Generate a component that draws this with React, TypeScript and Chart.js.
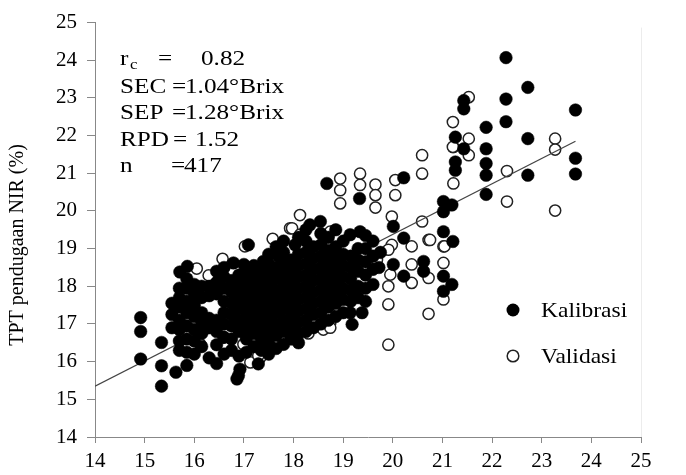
import React, { useEffect, useRef } from "react";
import { Chart, registerables } from "chart.js";

Chart.register(...registerables);

// Kalibrasi (filled circles): [TPT aktual, TPT pendugaan NIR]
const kalibrasiPoints: number[][] = [
  [14.92, 17.17], [14.92, 16.8], [14.92, 16.07],
  [15.34, 16.51], [15.34, 15.89], [15.34, 15.35], [15.63, 15.72],
  [15.55, 16.9], [15.55, 17.25], [15.55, 17.55],
  [15.7, 16.3], [15.7, 16.55], [15.7, 16.85], [15.7, 17.1], [15.7, 17.45], [15.7, 17.7], [15.7, 17.95], [15.71, 18.38],
  [15.85, 15.9], [15.85, 16.25], [15.85, 16.6], [15.85, 16.95], [15.85, 17.3], [15.85, 17.6], [15.85, 17.95], [15.85, 18.2], [15.86, 18.53],
  [16.0, 16.2], [16.0, 16.55], [16.0, 16.85], [16.0, 17.2], [16.0, 17.5], [16.0, 17.8], [16.0, 18.05],
  [16.15, 16.4], [16.15, 16.75], [16.15, 17.05], [16.15, 17.3], [16.15, 17.7], [16.15, 18.0],
  [16.3, 16.1], [16.3, 16.9], [16.3, 17.15], [16.3, 17.75], [16.3, 18.0],
  [16.45, 15.95], [16.45, 16.45], [16.45, 16.8], [16.45, 17.1], [16.45, 17.8], [16.45, 18.1], [16.45, 18.4],
  [16.6, 16.2], [16.6, 16.65], [16.6, 17.0], [16.6, 17.3], [16.6, 17.6], [16.6, 17.95], [16.6, 18.25], [16.6, 18.5],
  [16.75, 16.3], [16.75, 16.6], [16.75, 16.95], [16.75, 17.25], [16.75, 17.55], [16.75, 17.85], [16.75, 18.15], [16.79, 18.62],
  [16.89, 15.63], [16.92, 15.8], [16.86, 15.54], [16.9, 16.15], [16.9, 16.8], [16.9, 17.1], [16.9, 17.4], [16.9, 17.7], [16.9, 18.0], [16.9, 18.3],
  [17.05, 16.25], [17.05, 16.6], [17.05, 16.9], [17.05, 17.2], [17.05, 17.5], [17.05, 17.8], [17.05, 18.1], [17.05, 18.4], [17.0, 18.58], [17.09, 19.1],
  [17.2, 16.4], [17.2, 16.75], [17.2, 17.05], [17.2, 17.35], [17.2, 17.65], [17.2, 17.95], [17.2, 18.25], [17.2, 18.55],
  [17.29, 15.94], [17.35, 16.3], [17.35, 16.6], [17.35, 16.9], [17.35, 17.2], [17.35, 17.5], [17.35, 17.8], [17.35, 18.1], [17.35, 18.4], [17.39, 18.66],
  [17.5, 16.2], [17.5, 16.5], [17.5, 16.8], [17.5, 17.1], [17.5, 17.4], [17.5, 17.7], [17.5, 18.0], [17.5, 18.3], [17.5, 18.6], [17.5, 18.85],
  [17.65, 16.35], [17.65, 16.7], [17.65, 17.0], [17.65, 17.3], [17.65, 17.6], [17.65, 17.9], [17.65, 18.2], [17.65, 18.5], [17.7, 18.79], [17.65, 19.05],
  [17.8, 16.46], [17.8, 16.8], [17.8, 17.1], [17.8, 17.4], [17.8, 17.7], [17.8, 18.0], [17.8, 18.3], [17.8, 18.6], [17.8, 18.9], [17.8, 19.2],
  [17.95, 16.6], [17.95, 16.9], [17.95, 17.2], [17.95, 17.5], [17.95, 17.8], [17.95, 18.1], [17.95, 18.4], [17.95, 18.7], [18.03, 19.1],
  [18.1, 16.5], [18.1, 16.75], [18.1, 17.05], [18.1, 17.35], [18.1, 17.65], [18.1, 17.95], [18.1, 18.25], [18.1, 18.55], [18.1, 18.85], [18.1, 19.3],
  [18.25, 16.8], [18.25, 17.1], [18.25, 17.4], [18.25, 17.7], [18.25, 18.0], [18.25, 18.3], [18.25, 18.6], [18.25, 18.9], [18.25, 19.2], [18.25, 19.5],
  [18.4, 16.9], [18.4, 17.25], [18.4, 17.55], [18.4, 17.85], [18.4, 18.15], [18.4, 18.45], [18.4, 18.75], [18.4, 19.05], [18.33, 19.63],
  [18.55, 17.0], [18.55, 17.3], [18.55, 17.6], [18.55, 17.9], [18.55, 18.2], [18.55, 18.5], [18.55, 18.8], [18.55, 19.1], [18.55, 19.4], [18.54, 19.72],
  [18.7, 17.1], [18.7, 17.45], [18.7, 17.75], [18.7, 18.05], [18.7, 18.35], [18.7, 18.65], [18.7, 18.95], [18.7, 19.3], [18.67, 20.73],
  [18.85, 17.2], [18.85, 17.55], [18.85, 17.85], [18.85, 18.15], [18.85, 18.45], [18.85, 18.75], [18.85, 19.05], [18.85, 19.5],
  [19.0, 17.3], [19.0, 17.65], [19.0, 17.95], [19.0, 18.25], [19.0, 18.55], [19.0, 18.85], [19.0, 19.2],
  [19.18, 16.99], [19.14, 17.3], [19.15, 17.6], [19.15, 17.9], [19.15, 18.2], [19.15, 18.5], [19.15, 18.8], [19.14, 19.37],
  [19.38, 17.3], [19.3, 17.7], [19.3, 18.0], [19.3, 18.4], [19.3, 18.7], [19.3, 19.0], [19.34, 19.45], [19.33, 20.33],
  [19.45, 17.6], [19.45, 17.95], [19.45, 18.3], [19.45, 18.65], [19.45, 19.0], [19.45, 19.35],
  [19.6, 18.05], [19.6, 18.45], [19.6, 18.8], [19.6, 19.2], [19.72, 18.5], [19.75, 18.9],
  [20.01, 19.59], [20.22, 19.28], [20.01, 18.58], [20.22, 18.27], [20.62, 18.66], [20.62, 18.4],
  [21.02, 18.27], [21.19, 18.05], [21.02, 17.87], [20.22, 20.88],
  [21.02, 20.25], [21.19, 20.16], [21.02, 19.98], [21.02, 19.45], [21.21, 19.19],
  [21.26, 21.96], [21.26, 21.3], [21.26, 21.08], [21.43, 22.93], [21.43, 22.71], [21.43, 21.65],
  [21.88, 22.22], [21.88, 21.65], [21.88, 21.26], [21.88, 20.95], [21.88, 20.44],
  [22.28, 24.07], [22.28, 22.97], [22.28, 22.37], [22.72, 23.28], [22.72, 21.92], [22.72, 20.95],
  [23.68, 22.68], [23.68, 21.4], [23.68, 20.98],
];

// Validasi (open circles)
const validasiPoints: number[][] = [
  [16.05, 18.47], [16.29, 18.29], [16.57, 18.73], [17.02, 19.06], [17.58, 19.26], [17.93, 19.54], [18.13, 19.89],
  [17.97, 19.54], [18.13, 19.37], [18.74, 19.45],
  [16.12, 16.46], [16.2, 16.85], [16.59, 16.64], [16.99, 16.46], [17.13, 15.98], [17.33, 16.11], [17.29, 16.16], [17.58, 16.48],
  [17.5, 17.3], [17.9, 17.8], [18.1, 18.1], [18.3, 17.9], [18.5, 18.2], [18.6, 16.85], [18.3, 16.75],
  [18.74, 17.26], [18.74, 17.03], [18.74, 16.9],
  [18.94, 20.86], [18.94, 20.55], [18.94, 20.2], [19.34, 20.99], [19.34, 20.69],
  [19.65, 20.7], [19.65, 20.42], [19.65, 20.09], [20.05, 20.82], [20.05, 20.42],
  [20.59, 21.48], [20.59, 20.99], [21.22, 21.7], [21.22, 20.73],
  [19.98, 19.85], [20.59, 19.72], [20.72, 19.23], [20.38, 19.06], [19.98, 19.1], [19.91, 18.97], [21.02, 19.06],
  [20.38, 18.58], [19.95, 18.31], [19.91, 18.0], [20.38, 18.09], [20.72, 18.22], [21.02, 18.62],
  [21.02, 17.65], [19.91, 17.52], [20.72, 17.27], [19.68, 18.7], [19.91, 16.45],
  [21.53, 23.02], [21.21, 22.36], [21.53, 21.92], [21.21, 21.7], [21.53, 21.48],
  [22.3, 21.06], [22.3, 20.25], [23.27, 21.92], [23.27, 21.63], [23.27, 20.01],
  [20.75, 19.23], [21.04, 19.06],
];

// Regression line end points
const regressionLine: number[][] = [[14, 15.35], [23.68, 21.85]];

const axisMin = 14;
const axisMax = 25;

const statsLabels = ["r", "SEC", "SEP", "RPD", "n"];
const statsValues = ["0.82", "1.04°Brix", "1.28°Brix", "1.52", "417"];
const legendLabels = ["Kalibrasi", "Validasi"];
const yTitle = "TPT pendugaan NIR (%)";

const FONT = '"Liberation Serif", "Times New Roman", serif';

function wideText(ctx: CanvasRenderingContext2D, text: string, x: number, y: number, stretch: number) {
  ctx.save();
  ctx.translate(x, y);
  ctx.scale(stretch, 1);
  ctx.fillText(text, 0, 0);
  ctx.restore();
}

const overlayPlugin = {
  id: "overlay",
  afterDraw(chart: any) {
    const ctx = chart.ctx as CanvasRenderingContext2D;
    const area = chart.chartArea;
    ctx.save();
    // faint right frame line
    ctx.strokeStyle = "#ececec";
    ctx.lineWidth = 1;
    ctx.beginPath();
    ctx.moveTo(area.right + 0.5, area.top + 5);
    ctx.lineTo(area.right + 0.5, area.bottom);
    ctx.stroke();

    // y axis title
    ctx.fillStyle = "#000";
    ctx.textAlign = "center";
    ctx.textBaseline = "middle";
    ctx.font = `20px ${FONT}`;
    ctx.save();
    ctx.translate(18, 245);
    ctx.rotate(-Math.PI / 2);
    ctx.fillText(yTitle, 0, 0);
    ctx.restore();

    // statistics text
    ctx.textAlign = "left";
    const s = 1.2;
    const x0 = area.left + 25;
    const rowY = [59, 87, 113, 140, 166];
    const eqX = [158, 172, 172, 173, 171];
    const valX = [201, 185, 185, 195, 184];
    for (let i = 0; i < statsLabels.length; i++) {
      ctx.font = `21px ${FONT}`;
      wideText(ctx, statsLabels[i], x0, rowY[i], s);
      if (i === 0) {
        ctx.font = `14px ${FONT}`;
        wideText(ctx, "c", x0 + 10, rowY[i] + 6, s);
        ctx.font = `21px ${FONT}`;
      }
      wideText(ctx, "=", eqX[i], rowY[i], s);
      wideText(ctx, statsValues[i], valX[i], rowY[i], s);
    }

    // legend
    const lx = 513;
    const ly = [310, 356];
    ctx.beginPath();
    ctx.arc(lx, ly[0], 6.5, 0, Math.PI * 2);
    ctx.fillStyle = "#000";
    ctx.fill();
    ctx.beginPath();
    ctx.arc(lx, ly[1], 5.8, 0, Math.PI * 2);
    ctx.fillStyle = "#fff";
    ctx.fill();
    ctx.lineWidth = 1.5;
    ctx.strokeStyle = "#222";
    ctx.stroke();
    ctx.fillStyle = "#000";
    ctx.font = `21px ${FONT}`;
    wideText(ctx, legendLabels[0], 541, ly[0] + 1, 1.12);
    wideText(ctx, legendLabels[1], 541, ly[1] + 1, 1.12);
    ctx.restore();
  },
};

export default function App() {
  const canvasRef = useRef<HTMLCanvasElement | null>(null);

  useEffect(() => {
    if (!canvasRef.current) return;
    const toXY = (p: number[]) => ({ x: p[0], y: p[1] });
    const chart = new Chart(canvasRef.current, {
      type: "scatter",
      data: {
        datasets: [
          {
            label: legendLabels[0],
            data: kalibrasiPoints.map(toXY),
            pointRadius: 6.3,
            pointBackgroundColor: "#000",
            pointBorderColor: "#000",
            pointBorderWidth: 0.5,
          },
          {
            type: "line",
            label: "regresi",
            data: regressionLine.map(toXY),
            borderColor: "#444",
            borderWidth: 1.3,
            pointRadius: 0,
            showLine: true,
            fill: false,
          } as any,
          {
            label: legendLabels[1],
            data: validasiPoints.map(toXY),
            pointRadius: 5.6,
            pointBackgroundColor: "#fff",
            pointBorderColor: "#222",
            pointBorderWidth: 1.5,
          },
        ],
      },
      options: {
        animation: false,
        responsive: false,
        events: [],
        layout: { padding: { top: 20, right: 45, left: 0, bottom: 0 } },
        plugins: {
          legend: { display: false },
          tooltip: { enabled: false },
        },
        scales: {
          x: {
            type: "linear",
            min: axisMin,
            max: axisMax,
            ticks: {
              stepSize: 1,
              color: "#000",
              font: { family: FONT, size: 21 },
              padding: 6,
            },
            grid: { drawOnChartArea: false, drawTicks: true, tickLength: 6, color: "#888" },
            border: { display: true, color: "#888", width: 1 },
            afterFit: (sc: any) => {
              sc.height = 38;
            },
          },
          y: {
            type: "linear",
            min: axisMin,
            max: axisMax,
            ticks: {
              stepSize: 1,
              color: "#000",
              font: { family: FONT, size: 21 },
              padding: 10,
            },
            grid: { drawOnChartArea: false, drawTicks: true, tickLength: 8, color: "#888" },
            border: { display: true, color: "#888", width: 1 },
            afterFit: (sc: any) => {
              sc.width = 95;
            },
          },
        },
      },
      plugins: [overlayPlugin],
    });
    return () => chart.destroy();
  }, []);

  return (
    <div style={{ position: "fixed", left: 0, top: 0, width: 686, height: 475, background: "#fff" }}>
      <canvas ref={canvasRef} width={686} height={475} style={{ display: "block" }} />
    </div>
  );
}
